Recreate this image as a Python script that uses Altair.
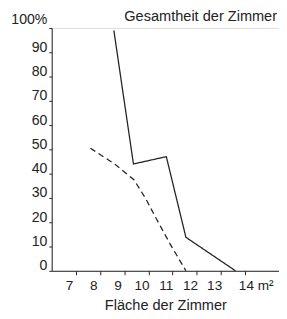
import altair as alt
import pandas as pd

solid_x = [8.57, 9.38, 10.74, 11.55, 13.6]
solid_y = [99, 44, 47, 13.8, 0]

dash_x = [7.6, 8.6, 9.4, 9.9, 10.35, 10.9, 11.55]
dash_y = [50.5, 44, 37.5, 29.5, 21, 11, 0]

x_ticks = [7, 8, 9, 10, 11, 12, 13, 14]
y_ticks = [0, 10, 20, 30, 40, 50, 60, 70, 80, 90, 100]

df = pd.concat([
    pd.DataFrame({"x": solid_x, "y": solid_y, "o": range(len(solid_x)), "s": "gesamt"}),
    pd.DataFrame({"x": dash_x, "y": dash_y, "o": range(len(dash_x)), "s": "teil"}),
], ignore_index=True)

FONT = "Liberation Sans"
INK = "#222222"

xs = alt.Scale(domain=[6, 15.4], nice=False, zero=False)
ys = alt.Scale(domain=[0, 100], nice=False)

xaxis = alt.Axis(
    values=x_ticks, title="Fläche der Zimmer", grid=False,
    labelExpr="datum.value == 14 ? '14 m²' : datum.label",
    labelAlign={"expr": "datum.value == 14 ? 'left' : 'center'"},
    labelOffset=-7, tickSize=4, labelPadding=4, labelOverlap=False,
    labelFlush=False,
    labelFontSize=14, titleFontSize=15, titleFontWeight="normal",
    titlePadding=6, labelFont=FONT, titleFont=FONT,
    labelColor=INK, titleColor=INK, domainColor=INK, tickColor=INK,
)
yaxis = alt.Axis(
    values=y_ticks, title=None, grid=False,
    labelExpr="datum.value == 100 ? '100%' : datum.label",
    labelBaseline="alphabetic", labelOverlap=False, labelFlush=False,
    labelOffset={"expr": "datum.value == 100 ? -5 : -1"},
    tickSize=3, labelPadding=2, labelFontSize=14.5, labelFont=FONT,
    labelColor=INK, domainColor=INK, tickColor=INK,
)

chart = alt.Chart(df).mark_line(color=INK, strokeWidth=1.3).encode(
    x=alt.X("x:Q", scale=xs, axis=xaxis),
    y=alt.Y("y:Q", scale=ys, axis=yaxis),
    detail="s:N",
    strokeDash=alt.StrokeDash(
        "s:N",
        scale=alt.Scale(domain=["gesamt", "teil"], range=[[1, 0], [6, 4]]),
        legend=None,
    ),
    order="o:Q",
).properties(
    width=234, height=250,
    autosize=alt.AutoSizeParams(type="none"),
    padding={"left": 45, "top": 16, "right": 0, "bottom": 43},
    title=alt.TitleParams(
        "Gesamtheit der Zimmer", anchor="end", fontSize=15, font=FONT,
        fontWeight="normal", color=INK, baseline="alphabetic", offset=0,
        dy=25, dx=-2,
    ),
).configure_view(strokeOpacity=0, strokeWidth=0).configure(background="white")

chart.save("out.html", embed_options={"renderer": "svg", "actions": False})
